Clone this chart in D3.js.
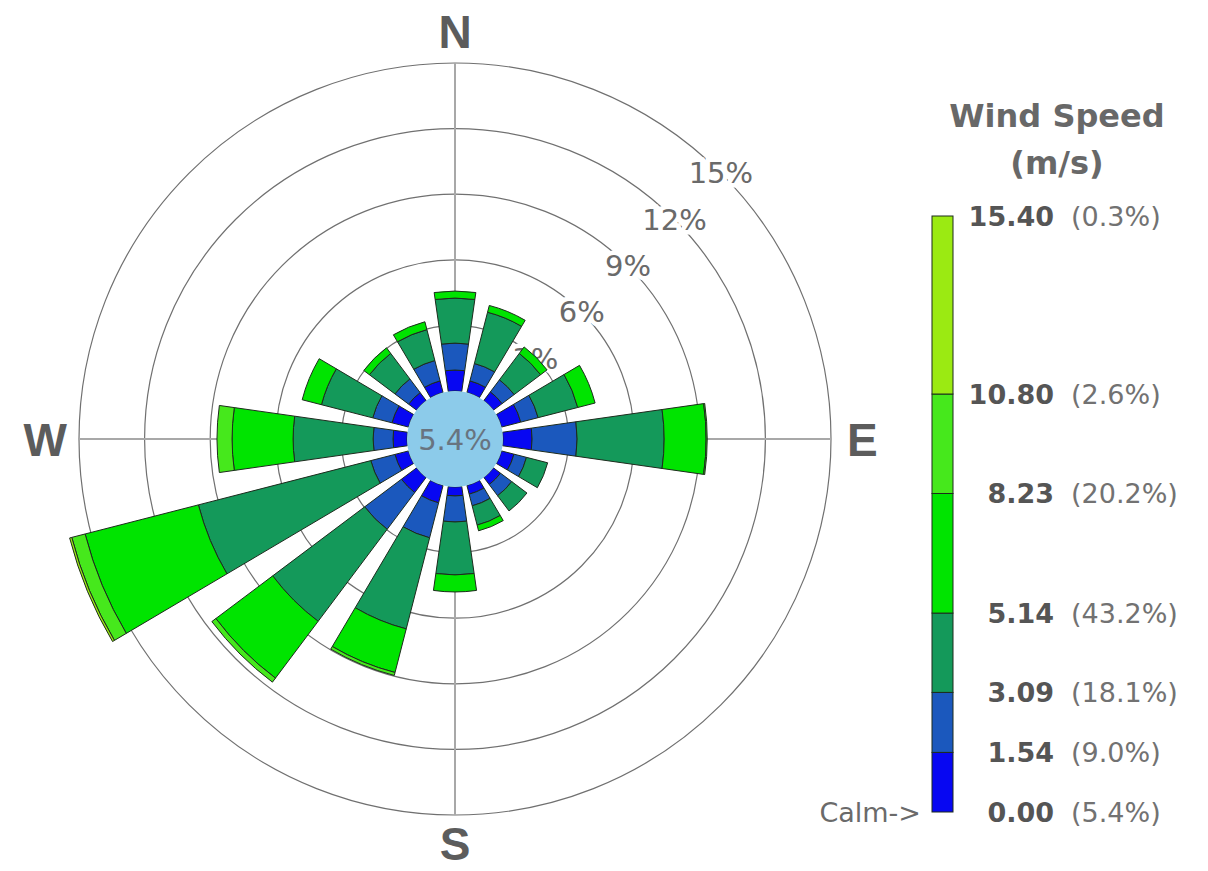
<!DOCTYPE html>
<html>
<head>
<meta charset="utf-8">
<script src="https://cdn.jsdelivr.net/npm/d3@7"></script>
<style>
  html, body { margin: 0; padding: 0; background: #fff; }
  svg { display: block; }
</style>
</head>
<body>
<svg id="rose" width="1208" height="871"></svg>
<script>
// Sixteen compass sectors, clockwise from north
const directions = ["N","NNE","NE","ENE","E","ESE","SE","SSE","S","SSW","SW","WSW","W","WNW","NW","NNW"];

// Frequency (%) of each wind-speed class per direction
const speed0_154   = [0.96,0.55,0.50,0.91,1.33,0.59,0.41,0.41,0.41,0.82,0.87,0.64,0.64,0.78,0.46,0.55];
const speed154_309 = [1.23,0.82,0.69,0.82,2.06,0.59,0.64,0.55,1.19,1.65,2.10,1.14,0.91,0.91,0.78,0.96];
const speed309_514 = [2.06,2.42,1.51,1.87,3.98,1.00,0.87,0.91,2.42,4.30,5.26,8.14,3.66,2.42,1.46,1.46];
const speed514_823 = [0.32,0.32,0.37,0.82,1.92,0.00,0.00,0.27,0.78,2.06,3.25,5.35,2.79,0.91,0.32,0.37];
const speed823_1080 = [0,0,0,0,0.05,0,0,0,0,0.14,0.23,0.63,0.69,0,0,0];
const speed1080_1540 = [0,0,0,0,0,0,0,0,0,0,0,0.10,0,0,0,0];

const calmPct = 5.4;

// Legend: class boundaries (m/s) and class shares
const speedBreaks = [0.00, 1.54, 3.09, 5.14, 8.23, 10.80, 15.40];
const breakLabels = ["0.00","1.54","3.09","5.14","8.23","10.80","15.40"];
const classShares = ["(5.4%)","(9.0%)","(18.1%)","(43.2%)","(20.2%)","(2.6%)","(0.3%)"];
const classColors = ["#0707f2","#1b58bd","#14995a","#00e400","#46e81c","#9bea12"];

// Radial grid
const ringPcts = [3, 6, 9, 12, 15];
const compass = ["N","E","S","W"];

const speedClasses = [speed0_154, speed154_309, speed309_514, speed514_823, speed823_1080, speed1080_1540];

const svg = d3.select("#rose");
const cx = 455, cy = 439;
const calmR = 48, outerR = 376;

const r = d3.scaleLinear().domain([0, 15]).range([calmR, outerR]);
const angle = d3.scaleBand().domain(directions).range([-Math.PI/16, 2*Math.PI - Math.PI/16]).paddingInner(0.28).paddingOuter(0.14);

const g = svg.append("g").attr("transform", `translate(${cx},${cy})`);

// Grid rings
g.append("g").selectAll("circle").data(ringPcts).join("circle")
  .attr("r", d => r(d))
  .attr("fill", "none")
  .attr("stroke", "#707070")
  .attr("stroke-width", 1.2);

// Cross-hair axes
g.append("line").attr("x1", 0).attr("x2", 0).attr("y1", -outerR).attr("y2", outerR)
  .attr("stroke", "#a8a8a8").attr("stroke-width", 2);
g.append("line").attr("x1", -outerR).attr("x2", outerR).attr("y1", 0).attr("y2", 0)
  .attr("stroke", "#a8a8a8").attr("stroke-width", 2);

// Ring labels along the NE diagonal
const diag = Math.PI / 4;
g.append("g").selectAll("text").data(ringPcts).join("text")
  .attr("x", d => r(d) * Math.sin(diag))
  .attr("y", d => -r(d) * Math.cos(diag))
  .attr("text-anchor", "middle")
  .attr("dominant-baseline", "central")
  .attr("font-family", "DejaVu Sans, Verdana, sans-serif")
  .attr("font-size", 29)
  .attr("fill", "#6a6a6a")
  .attr("stroke", "#fff")
  .attr("stroke-width", 9)
  .attr("paint-order", "stroke")
  .text(d => d + "%");

// Stacked petals
const arc = d3.arc();
const petals = [];
directions.forEach((dir, i) => {
  let cum = 0;
  speedClasses.forEach((arr, k) => {
    const v = arr[i];
    if (v > 0) {
      petals.push({
        dir, k,
        innerRadius: r(cum),
        outerRadius: r(cum + v),
        startAngle: angle(dir),
        endAngle: angle(dir) + angle.bandwidth()
      });
    }
    cum += v;
  });
});

g.append("g").selectAll("path").data(petals).join("path")
  .attr("d", d => arc(d))
  .attr("fill", d => classColors[d.k])
  .attr("stroke", "#1d2b1d")
  .attr("stroke-width", 1)
  .attr("stroke-linejoin", "round");

// Calm circle
g.append("circle").attr("r", calmR).attr("fill", "#8ccbea");
g.append("text")
  .attr("x", 0).attr("y", 1)
  .attr("text-anchor", "middle")
  .attr("dominant-baseline", "central")
  .attr("font-family", "DejaVu Sans, Verdana, sans-serif")
  .attr("font-size", 29)
  .attr("fill", "#687480")
  .text(calmPct.toFixed(1) + "%");

// Compass letters
const compassPos = {
  N: {x: 0, y: -outerR - 15, anchor: "middle"},
  S: {x: 0, y: outerR + 45, anchor: "middle"},
  E: {x: outerR + 16, y: 17, anchor: "start"},
  W: {x: -outerR - 12, y: 17, anchor: "end"}
};
g.append("g").selectAll("text").data(compass).join("text")
  .attr("x", d => compassPos[d].x)
  .attr("y", d => compassPos[d].y)
  .attr("text-anchor", d => compassPos[d].anchor)
  .attr("font-family", "Liberation Sans, Arial, sans-serif")
  .attr("font-weight", "bold")
  .attr("font-size", 46)
  .attr("fill", "#5c5c5c")
  .text(d => d);

// Legend
const legend = svg.append("g");
const ly = d3.scaleLinear().domain([0, 15.40]).range([812, 216]);
const barX = 932, barW = 21;

legend.append("text")
  .attr("x", 1057).attr("y", 127)
  .attr("text-anchor", "middle")
  .attr("font-family", "DejaVu Sans, Verdana, sans-serif")
  .attr("font-weight", "bold")
  .attr("font-size", 32)
  .attr("fill", "#686868")
  .text("Wind Speed");
legend.append("text")
  .attr("x", 1057).attr("y", 174)
  .attr("text-anchor", "middle")
  .attr("font-family", "DejaVu Sans, Verdana, sans-serif")
  .attr("font-weight", "bold")
  .attr("font-size", 32)
  .attr("fill", "#686868")
  .text("(m/s)");

const bands = d3.range(classColors.length).map(i => ({lo: speedBreaks[i], hi: speedBreaks[i+1], color: classColors[i]}));
legend.append("g").selectAll("rect").data(bands).join("rect")
  .attr("x", barX)
  .attr("y", d => ly(d.hi))
  .attr("width", barW)
  .attr("height", d => ly(d.lo) - ly(d.hi))
  .attr("fill", d => d.color)
  .attr("stroke", "#1d2b1d")
  .attr("stroke-width", 1);

legend.append("g").selectAll("text").data(speedBreaks).join("text")
  .attr("x", 1054)
  .attr("y", d => ly(d))
  .attr("text-anchor", "end")
  .attr("dominant-baseline", "central")
  .attr("font-family", "DejaVu Sans, Verdana, sans-serif")
  .attr("font-weight", "bold")
  .attr("font-size", 27)
  .attr("fill", "#555")
  .text((d, i) => breakLabels[i]);

legend.append("g").selectAll("text").data(speedBreaks).join("text")
  .attr("x", 1071)
  .attr("y", d => ly(d))
  .attr("text-anchor", "start")
  .attr("dominant-baseline", "central")
  .attr("font-family", "DejaVu Sans, Verdana, sans-serif")
  .attr("font-size", 27)
  .attr("fill", "#727272")
  .text((d, i) => classShares[i]);

legend.append("text")
  .attr("x", 921).attr("y", ly(0))
  .attr("text-anchor", "end")
  .attr("dominant-baseline", "central")
  .attr("font-family", "DejaVu Sans, Verdana, sans-serif")
  .attr("font-size", 27)
  .attr("fill", "#6a6a6a")
  .text("Calm->");
</script>
</body>
</html>
